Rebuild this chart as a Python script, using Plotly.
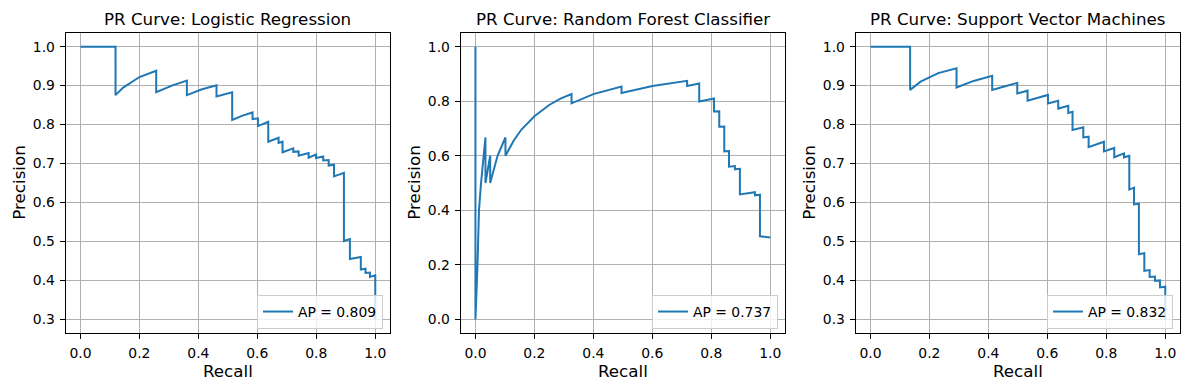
import plotly.graph_objects as go

# ---------------- data ----------------
titles = ["PR Curve: Logistic Regression",
          "PR Curve: Random Forest Classifier",
          "PR Curve: Support Vector Machines"]
ap_labels = ["AP = 0.809", "AP = 0.737", "AP = 0.832"]

recall_lr = [0.0, 0.119, 0.119, 0.145, 0.2, 0.257, 0.257, 0.31, 0.361, 0.361, 0.41, 0.4615,
             0.4615, 0.5147, 0.5147, 0.55, 0.5837, 0.5837, 0.602, 0.602, 0.637, 0.637, 0.672,
             0.672, 0.6855, 0.6855, 0.722, 0.722, 0.74, 0.74, 0.774, 0.774, 0.799, 0.799, 0.8235,
             0.8235, 0.842, 0.842, 0.86, 0.86, 0.8937, 0.8937, 0.914, 0.914, 0.951, 0.951, 0.967,
             0.967, 0.982, 0.982, 1.0, 1.0]
precision_lr = [1.0, 1.0, 0.8755, 0.895, 0.922, 0.938, 0.883, 0.9, 0.913, 0.8755, 0.89, 0.901,
                0.872, 0.883, 0.8116, 0.823, 0.831, 0.814, 0.816, 0.796, 0.807, 0.756, 0.766,
                0.753, 0.756, 0.729, 0.739, 0.730, 0.731, 0.720, 0.727, 0.715, 0.723, 0.714, 0.718,
                0.708, 0.709, 0.695, 0.697, 0.667, 0.676, 0.501, 0.506, 0.455, 0.46, 0.428, 0.43,
                0.419, 0.42, 0.409, 0.413, 0.30]

recall_rf = [0.0, 0.0, 0.007, 0.012, 0.019, 0.034, 0.034, 0.05, 0.05, 0.075, 0.1018, 0.1018,
             0.13, 0.156, 0.2, 0.25, 0.29, 0.326, 0.326, 0.4, 0.4955, 0.4955, 0.6, 0.718, 0.718,
             0.759, 0.759, 0.809, 0.809, 0.827, 0.827, 0.844, 0.844, 0.86, 0.86, 0.88, 0.88,
             0.897, 0.897, 0.948, 0.948, 0.965, 0.965, 1.0]
precision_rf = [1.0, 0.0, 0.2, 0.4, 0.5, 0.667, 0.5, 0.6, 0.5, 0.6, 0.667, 0.6,
                0.656, 0.696, 0.745, 0.786, 0.81, 0.826, 0.792, 0.826, 0.854, 0.83, 0.856, 0.8745,
                0.856, 0.865, 0.799, 0.81, 0.7625, 0.763, 0.7065, 0.707, 0.616, 0.617, 0.56, 0.562,
                0.55, 0.552, 0.458, 0.4665, 0.455, 0.457, 0.3045, 0.30]

recall_svm = [0.0, 0.1346, 0.1346, 0.17, 0.23, 0.292, 0.292, 0.35, 0.413, 0.413, 0.46, 0.498,
              0.498, 0.533, 0.533, 0.57, 0.602, 0.602, 0.637, 0.637, 0.671, 0.671, 0.6855, 0.6855,
              0.722, 0.722, 0.74, 0.74, 0.792, 0.792, 0.827, 0.827, 0.86, 0.86, 0.878, 0.878,
              0.894, 0.894, 0.9106, 0.9106, 0.929, 0.929, 0.947, 0.947, 0.965, 0.965, 0.982,
              0.982, 1.0, 1.0]
precision_svm = [1.0, 1.0, 0.889, 0.91, 0.932, 0.9446, 0.895, 0.912, 0.925, 0.889, 0.899, 0.907,
                 0.88, 0.887, 0.861, 0.869, 0.876, 0.854, 0.861, 0.841, 0.848, 0.83, 0.833, 0.786,
                 0.793, 0.767, 0.769, 0.742, 0.756, 0.731, 0.740, 0.716, 0.726, 0.716, 0.72, 0.633,
                 0.638, 0.595, 0.597, 0.467, 0.47, 0.4245, 0.4265, 0.409, 0.41, 0.399, 0.40,
                 0.382, 0.384, 0.30]

x_ticks = [0.0, 0.2, 0.4, 0.6, 0.8, 1.0]
y_ticks_a = [0.3, 0.4, 0.5, 0.6, 0.7, 0.8, 0.9, 1.0]
y_ticks_b = [0.0, 0.2, 0.4, 0.6, 0.8, 1.0]

# ---------------- layout geometry ----------------
# the page body has an 8px margin, so the figure is drawn 8px smaller and
# page-pixel positions are converted to figure pixels
OFF = 8
W, H = 1189 - OFF, 390 - OFF
FONT = "DejaVu Sans"
BLUE = "#1f77b4"


def fx(px):
    return (px - OFF) / W


def fy(py):
    return 1 - (py - OFF) / H


px_x = [(65.7, 390.0), (460.7, 785.0), (855.7, 1180.0)]
top_px, bot_px = 33.0, 333.0
y_dom = [fy(bot_px), fy(top_px)]

series = [(recall_lr, precision_lr, y_ticks_a),
          (recall_rf, precision_rf, y_ticks_b),
          (recall_svm, precision_svm, y_ticks_a)]

fig = go.Figure()
annotations = []
for i, (rec, prec, yt) in enumerate(series):
    n = "" if i == 0 else str(i + 1)
    leg = "legend" + n
    fig.add_trace(go.Scatter(x=rec, y=prec, mode="lines", name=ap_labels[i],
                             line=dict(color=BLUE, width=2),
                             xaxis="x" + n, yaxis="y" + n, legend=leg,
                             showlegend=True))
    ymin, ymax = min(prec), max(prec)
    pad = 0.05 * (ymax - ymin)
    axis_common = dict(showline=True, linecolor="black", linewidth=1, mirror=True,
                       ticks="outside", ticklen=5, tickwidth=1, tickcolor="black",
                       showgrid=True, gridcolor="#b0b0b0", gridwidth=1, zeroline=False,
                       tickfont=dict(family=FONT, size=13.9, color="black"),
                       tickformat=".1f", ticklabelstandoff=2)
    x0, x1 = px_x[i]
    fig.update_layout({
        "xaxis" + n: dict(domain=[fx(x0), fx(x1)], range=[-0.05, 1.05],
                          tickvals=x_ticks, anchor="y" + n, **axis_common),
        "yaxis" + n: dict(domain=y_dom, range=[ymin - pad, ymax + pad],
                          tickvals=yt, anchor="x" + n, **axis_common),
        leg: dict(x=fx(x1 - 7), y=fy(bot_px - 4), xanchor="right", yanchor="bottom",
                  xref="paper", yref="paper",
                  bgcolor="rgba(255,255,255,0.8)", bordercolor="#cccccc", borderwidth=1,
                  font=dict(family=FONT, size=13.9, color="black")),
    })
    cx = fx((x0 + x1) / 2)
    annotations.append(dict(text=titles[i], x=cx, y=fy(19), xref="paper", yref="paper",
                            xanchor="center", yanchor="middle", showarrow=False,
                            font=dict(family=FONT, size=16.7, color="black")))
    annotations.append(dict(text="Recall", x=cx, y=fy(371), xref="paper", yref="paper",
                            xanchor="center", yanchor="middle", showarrow=False,
                            font=dict(family=FONT, size=16.7, color="black")))
    annotations.append(dict(text="Precision", x=fx(x0 - 47), y=fy(183), xref="paper",
                            yref="paper", xanchor="center", yanchor="middle", textangle=-90,
                            showarrow=False, font=dict(family=FONT, size=16.7, color="black")))

fig.update_layout(width=W, height=H, margin=dict(l=0, r=0, t=0, b=0),
                  paper_bgcolor="white", plot_bgcolor="white",
                  font=dict(family=FONT, color="black"),
                  annotations=annotations, hovermode=False)

fig.write_html("out.html")
